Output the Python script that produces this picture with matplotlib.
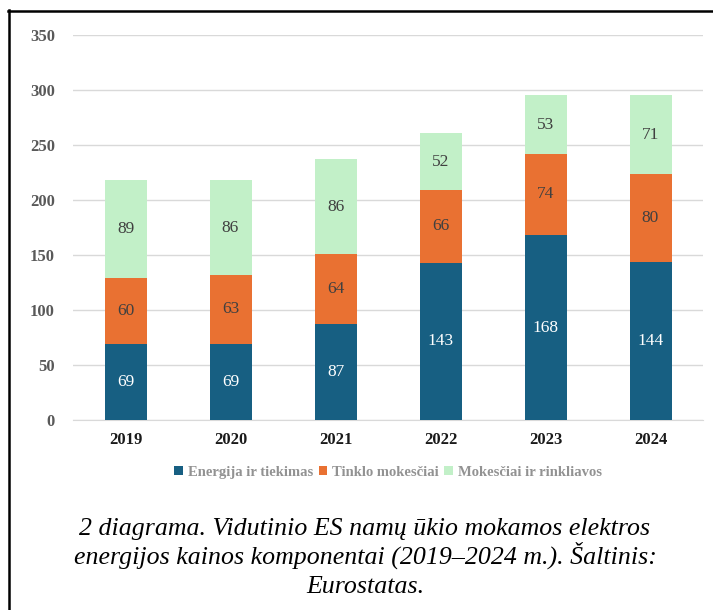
import matplotlib
matplotlib.use("Agg")
import matplotlib.pyplot as plt
import numpy as np

years = ["2019", "2020", "2021", "2022", "2023", "2024"]
energija = [69, 69, 87, 143, 168, 144]
tinklo = [60, 63, 64, 66, 74, 80]
mokesciai = [89, 86, 86, 52, 53, 71]
series_names = ["Energija ir tiekimas", "Tinklo mokesčiai", "Mokesčiai ir rinkliavos"]
colors = ["#175f82", "#e97132", "#c2f0c8"]
label_colors = ["white", "#404040", "#404040"]
yticks = [0, 50, 100, 150, 200, 250, 300, 350]
caption_lines = ["2 diagrama. Vidutinio ES namų ūkio mokamos elektros",
                 "energijos kainos komponentai (2019–2024 m.). Šaltinis:",
                 "Eurostatas."]

plt.rcParams['font.family'] = ['Liberation Serif', 'DejaVu Serif']

fig = plt.figure(figsize=(7.13, 6.10), dpi=100)
ax = fig.add_axes([73/713, 1-420/610, (703-73)/713, (420-35)/610])

x = np.arange(len(years))
bottom = np.zeros(len(years))
for vals, col, lc, name in zip([energija, tinklo, mokesciai], colors, label_colors, series_names):
    bars = ax.bar(x, vals, width=0.4, bottom=bottom, color=col, label=name, zorder=3)
    for b, v in zip(bars, vals):
        ax.text(b.get_x() + b.get_width()/2, b.get_y() + b.get_height()/2, str(v),
                ha='center', va='center', color=lc, fontsize=12.5, zorder=4)
    bottom += np.array(vals)

ax.set_xlim(-0.5, len(years) - 0.5)
ax.set_ylim(0, 350)
ax.set_yticks(yticks)
ax.set_yticklabels([str(t) for t in yticks], fontsize=12, fontweight='bold', color='#595959')
ax.set_xticks(x)
ax.set_xticklabels(years, fontsize=12, fontweight='bold', color='#1a1a1a')
ax.tick_params(axis='both', length=0)
ax.tick_params(axis='y', pad=13)
ax.tick_params(axis='x', pad=9)
ax.grid(axis='y', color='#d9d9d9', linewidth=1, zorder=0)
for s in ['top', 'right', 'left']:
    ax.spines[s].set_visible(False)
ax.spines['bottom'].set_color('#d9d9d9')

leg = ax.legend(loc='upper center', bbox_to_anchor=(0.5, -0.085), ncol=3, frameon=False,
                handlelength=0.6, handleheight=0.6, handletextpad=0.3, columnspacing=0.4,
                prop={'family': 'Liberation Serif', 'weight': 'bold', 'size': 10.5})
for t in leg.get_texts():
    t.set_color('#929292')

for i, line in enumerate(caption_lines):
    fig.text(365/713, 1-(535+29*i)/610, line, ha='center', va='baseline', fontsize=18.6,
             family='Liberation Serif', style='italic', color='black')

# frame lines (left and top)
fig.add_artist(plt.Line2D([8.5/713, 8.5/713], [0, 1-10/610], transform=fig.transFigure,
                          color='black', linewidth=1.8))
fig.add_artist(plt.Line2D([8/713, 1], [1-10.5/610, 1-10.5/610], transform=fig.transFigure,
                          color='black', linewidth=1.8))

fig.savefig("out.png", dpi=100)
